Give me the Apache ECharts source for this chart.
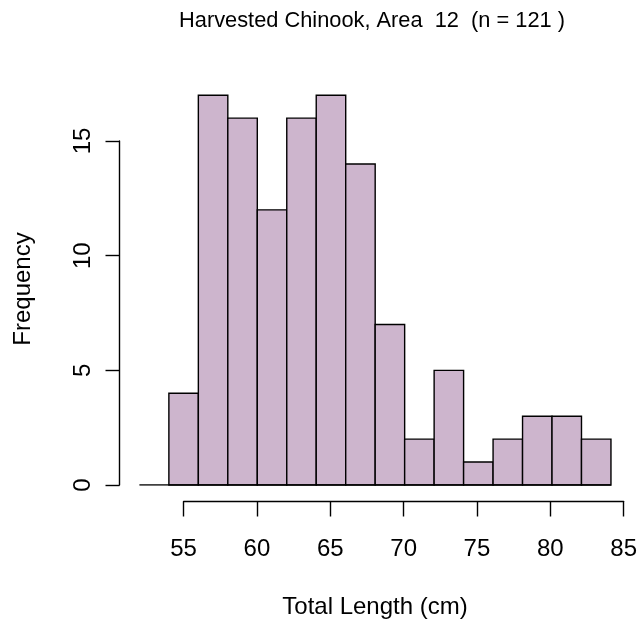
<!DOCTYPE html>
<html>
<head>
<meta charset="utf-8">
<script src="https://cdn.jsdelivr.net/npm/echarts@6/dist/echarts.min.js"></script>
<style>
  html, body { margin: 0; padding: 0; background: #fff; }
</style>
</head>
<body>
<div id="histChart" style="width: 640px; height: 621px"></div>
<script>
// histogram bins (2 cm wide), counts
const binStarts = [54, 56, 58, 60, 62, 64, 66, 68, 70, 72, 74, 76, 78, 80, 82];
const counts = [4, 17, 16, 12, 16, 17, 14, 7, 2, 5, 1, 2, 3, 3, 2];
const binWidth = 2;
const xTicks = [55, 60, 65, 70, 75, 80, 85];
const yTicks = [0, 5, 10, 15];
const baseline = [52, 84];

const font = "'Liberation Sans', Arial, sans-serif";
const lw = 1.4;

let bars = binStarts.map((b, i) => [b, b + binWidth, counts[i]]);

let chartsOptions = {
  animation: false,
  grid: [
    { left: 139.4, right: 14.3, top: 95.2, bottom: 136 },
    { left: 183.6, right: 14.3, top: 500.5, height: 1 },
    { left: 119.5, width: 1, top: 141, bottom: 136 }
  ],
  xAxis: [
    { gridIndex: 0, type: "value", min: 52, max: 85, show: false },
    {
      gridIndex: 1, type: "value", min: xTicks[0], max: xTicks[xTicks.length - 1], interval: 5,
      axisLine: { show: true, lineStyle: { color: "#000", width: lw } },
      axisTick: { show: true, inside: false, length: 15, lineStyle: { color: "#000", width: lw } },
      axisLabel: { show: true, margin: 36, color: "#000", fontSize: 24, fontFamily: font },
      splitLine: { show: false }
    },
    { gridIndex: 2, type: "value", min: 0, max: 1, show: false }
  ],
  yAxis: [
    { gridIndex: 0, type: "value", min: 0, max: 17, show: false },
    { gridIndex: 1, type: "value", min: 0, max: 1, show: false },
    {
      gridIndex: 2, type: "value", min: yTicks[0], max: yTicks[yTicks.length - 1], interval: 5,
      axisLine: { show: true, lineStyle: { color: "#000", width: lw } },
      axisTick: { show: true, inside: false, length: 14, lineStyle: { color: "#000", width: lw } },
      axisLabel: { show: true, rotate: 90, margin: 24, color: "#000", fontSize: 24, fontFamily: font },
      splitLine: { show: false }
    }
  ],
  series: [
    {
      type: "line",
      xAxisIndex: 0, yAxisIndex: 0,
      data: [[baseline[0], 0], [baseline[1], 0]],
      symbol: "none",
      lineStyle: { color: "#000", width: lw },
      silent: true
    },
    {
      type: "custom",
      xAxisIndex: 0, yAxisIndex: 0,
      data: bars,
      renderItem: function (params, api) {
        let p0 = api.coord([api.value(0), api.value(2)]);
        let p1 = api.coord([api.value(1), 0]);
        return {
          type: "rect",
          shape: { x: p0[0], y: p0[1], width: p1[0] - p0[0], height: p1[1] - p0[1] },
          style: { fill: "#CDB5CD", stroke: "#000", lineWidth: lw }
        };
      }
    }
  ],
  graphic: [
    {
      type: "text", x: 372, y: 21,
      style: { text: "Harvested Chinook, Area  12  (n = 121 )", font: "21.8px " + font, fill: "#000", textAlign: "center", textVerticalAlign: "middle" }
    },
    {
      type: "text", x: 375, y: 607,
      style: { text: "Total Length (cm)", font: "24px " + font, fill: "#000", textAlign: "center", textVerticalAlign: "middle" }
    },
    {
      type: "text", x: 23, y: 289, rotation: Math.PI / 2,
      style: { text: "Frequency", font: "24px " + font, fill: "#000", textAlign: "center", textVerticalAlign: "middle" }
    }
  ]
};

let dataCharts = echarts.init(document.getElementById("histChart"));
dataCharts.setOption(chartsOptions);
</script>
</body>
</html>
